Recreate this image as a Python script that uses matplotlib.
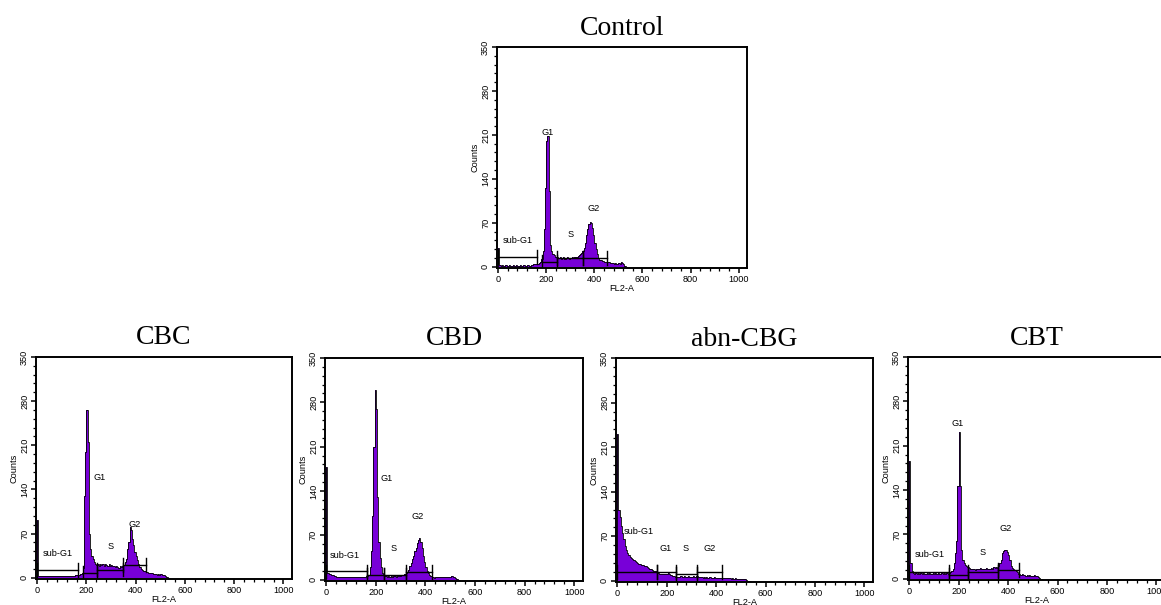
import matplotlib.pyplot as plt
import numpy as np

# channel bins of FL2-A, 5 units wide, starting at 0
bin_width = 5

control = [30, 3, 2, 3, 2, 2, 3, 2, 2, 3,
           2, 2, 3, 2, 2, 3, 2, 2, 3, 2,
           2, 3, 2, 2, 3, 3, 2, 3, 3, 4,
           4, 4, 5, 5, 6, 8, 12, 25, 60, 125,
           200, 208, 120, 35, 25, 20, 18, 16, 15, 16,
           14, 15, 13, 14, 15, 13, 14, 15, 14, 13,
           14, 15, 14, 15, 16, 15, 17, 18, 20, 22,
           25, 30, 38, 50, 60, 68, 71, 70, 62, 50,
           38, 28, 20, 14, 11, 10, 9, 9, 8, 8,
           8, 7, 7, 6, 6, 6, 5, 6, 5, 5,
           6, 5, 7, 6, 4, 2, 0, 0]

cbc = [92, 3, 2, 2, 3, 2, 2, 2, 3, 2,
       2, 3, 2, 2, 2, 3, 2, 2, 2, 3,
       2, 2, 3, 2, 3, 3, 2, 3, 3, 3,
       3, 4, 4, 5, 5, 6, 8, 15, 130, 200,
       266, 215, 70, 45, 35, 30, 25, 22, 20, 21,
       19, 22, 20, 21, 19, 22, 20, 18, 21, 19,
       20, 18, 19, 17, 18, 17, 16, 18, 17, 18,
       20, 25, 30, 45, 57, 80, 75, 62, 52, 41,
       35, 28, 22, 17, 14, 12, 11, 10, 9, 9,
       8, 8, 7, 7, 6, 6, 6, 5, 6, 5,
       6, 5, 5, 4, 3, 1, 0, 0]

cbd = [178, 10, 9, 9, 8, 7, 6, 6, 5, 5,
       5, 4, 5, 4, 4, 5, 4, 5, 4, 4,
       5, 4, 4, 5, 4, 5, 4, 5, 5, 5,
       5, 5, 6, 6, 8, 20, 45, 100, 210, 300,
       270, 130, 60, 35, 20, 10, 7, 6, 6, 5,
       6, 5, 6, 5, 6, 6, 5, 6, 7, 6,
       7, 7, 8, 9, 10, 12, 15, 22, 27, 32,
       38, 45, 50, 58, 62, 66, 60, 50, 38, 28,
       20, 14, 10, 8, 6, 5, 4, 3, 4, 4,
       5, 4, 5, 5, 4, 5, 4, 5, 5, 4,
       5, 6, 5, 4, 3, 1, 0, 0]

abn_cbg = [230, 112, 100, 86, 75, 65, 55, 48, 44, 40,
           38, 36, 34, 32, 31, 29, 28, 27, 26, 25,
           25, 24, 23, 23, 21, 20, 19, 18, 17, 16,
           16, 15, 13, 12, 11, 11, 10, 10, 11, 10,
           11, 12, 10, 9, 8, 8, 7, 6, 6, 6,
           6, 7, 6, 6, 7, 6, 6, 7, 6, 6,
           6, 7, 6, 6, 7, 6, 6, 6, 6, 5,
           6, 5, 6, 5, 6, 6, 5, 5, 6, 5,
           5, 5, 5, 4, 5, 5, 4, 5, 4, 4,
           4, 4, 3, 4, 3, 4, 3, 3, 3, 3,
           3, 2, 3, 2, 1, 0, 0, 0]

cbt = [186, 25, 12, 9, 8, 9, 8, 9, 8, 9,
       8, 9, 8, 8, 9, 8, 9, 8, 8, 9,
       8, 9, 8, 9, 8, 8, 9, 8, 9, 8,
       9, 8, 9, 10, 12, 15, 25, 40, 60, 147,
       231, 147, 45, 30, 25, 22, 20, 18, 17, 16,
       15, 16, 15, 14, 15, 16, 15, 17, 16, 15,
       16, 15, 17, 16, 15, 16, 17, 16, 18, 17,
       18, 17, 20, 25, 30, 40, 44, 46, 45, 42,
       38, 30, 20, 17, 15, 14, 12, 10, 8, 7,
       6, 7, 6, 6, 5, 6, 5, 6, 5, 5,
       5, 6, 5, 4, 3, 1, 0, 0]

# gate markers: (start, end, height) for sub-G1, G1, S, G2
gates_control = [(0, 161, 15), (182, 245, 8), (245, 351, 14), (351, 453, 14)]
gates_cbc = [(0, 166, 12), (186, 242, 7), (242, 350, 13), (350, 441, 20)]
gates_cbd = [(0, 163, 13), (163, 233, 8), (233, 323, 8), (323, 427, 12)]
gates_abn = [(0, 159, 13), (159, 236, 13), (236, 323, 10), (323, 425, 13)]
gates_cbt = [(0, 162, 11), (162, 238, 6), (238, 359, 11), (359, 445, 14)]

# phase labels: (text, x, y)
labels_control = [("G1", 204, 214), ("S", 303, 51), ("G2", 396, 93), ("sub-G1", 83, 42)]
labels_cbc = [("G1", 252, 159), ("S", 300, 50), ("G2", 394, 85), ("sub-G1", 85, 39)]
labels_cbd = [("G1", 245, 160), ("S", 272, 50), ("G2", 369, 100), ("sub-G1", 76, 39)]
labels_abn = [("sub-G1", 71, 77), ("G1", 196, 51), ("S", 277, 51), ("G2", 374, 51)]
labels_cbt = [("G1", 196, 245), ("S", 295, 42), ("G2", 390, 79), ("sub-G1", 82, 39)]

panels = [
    ("Control", control, gates_control, labels_control, [0.4281, 0.557, 0.2153, 0.3653]),
    ("CBC", cbc, gates_cbc, labels_cbc, [0.031, 0.043, 0.2205, 0.367]),
    ("CBD", cbd, gates_cbd, labels_cbd, [0.2799, 0.0397, 0.2222, 0.3686]),
    ("abn-CBG", abn_cbg, gates_abn, labels_abn, [0.5306, 0.038, 0.2214, 0.370]),
    ("CBT", cbt, gates_cbt, labels_cbt, [0.7821, 0.0413, 0.2214, 0.3686]),
]

purple = '#7800d8'
small = dict(family='Liberation Sans', fontsize=6.6)

fig = plt.figure(figsize=(11.61, 6.05), dpi=100)

for title, counts, gates, labels, rect in panels:
    ax = fig.add_axes(rect)
    edges = np.arange(len(counts) + 1) * bin_width
    ax.stairs(counts, edges, fill=True, color=purple, lw=0)
    ax.stairs(counts, edges, color='black', lw=0.6)

    for start, end, h in gates:
        ax.plot([start, end], [h, h], color='black', lw=1.0)
        ax.plot([start, start], [h - 11, h + 11], color='black', lw=1.0)
        ax.plot([end, end], [h - 11, h + 11], color='black', lw=1.0)

    for txt, x, y in labels:
        if title == 'abn-CBG' and txt == 'sub-G1':
            ax.text(26, y, txt, ha='left', va='center', **small)
        else:
            ax.text(x, y, txt, ha='center', va='center', **small)

    ax.set_xlim(-5, 1035)
    ax.set_ylim(-2, 350)
    ax.set_xticks([0, 200, 400, 600, 800, 1000])
    ax.set_xticks(np.arange(0, 1040, 40), minor=True)
    ax.set_yticks([0, 70, 140, 210, 280, 350])
    ax.set_yticks(np.arange(0, 351, 14), minor=True)
    ax.tick_params(which='major', direction='out', length=3.5, width=1.1, pad=1.5)
    ax.tick_params(which='minor', direction='out', length=2, width=0.9)
    for lab in ax.get_xticklabels():
        lab.set_fontproperties('Liberation Sans')
        lab.set_fontsize(6.6)
    for lab in ax.get_yticklabels():
        lab.set_fontproperties('Liberation Sans')
        lab.set_fontsize(6.6)
        lab.set_rotation(90)
        lab.set_va('center')
    for sp in ax.spines.values():
        sp.set_linewidth(1.4)
    ax.set_xlabel('FL2-A', labelpad=0, **small)
    ax.set_ylabel('Counts', labelpad=1, **small)
    ax.set_title(title, family='Liberation Serif', fontsize=20, pad=9)

fig.savefig('out.png', dpi=100)
